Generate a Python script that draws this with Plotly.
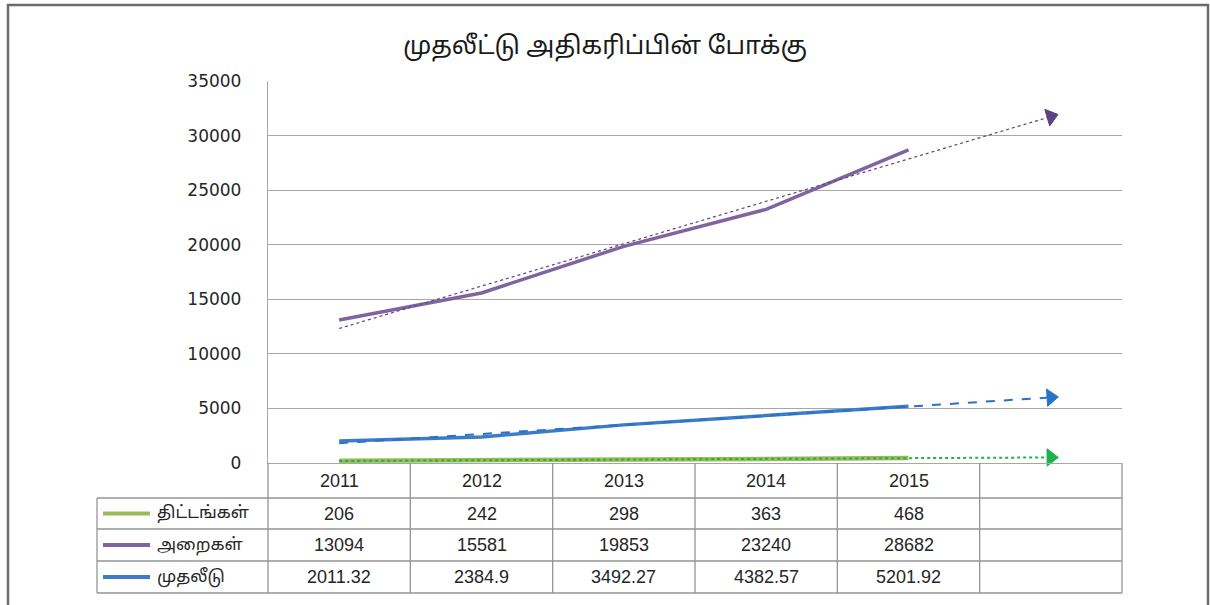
import numpy as np
import plotly.graph_objects as go

# ---------------- data ----------------
years = ["2011", "2012", "2013", "2014", "2015"]
series_names = ["திட்டங்கள்", "அறைகள்", "முதலீடு"]
schemes = [206, 242, 298, 363, 468]                       # திட்டங்கள்
rooms = [13094, 15581, 19853, 23240, 28682]               # அறைகள்
invest = [2011.32, 2384.9, 3492.27, 4382.57, 5201.92]     # முதலீடு
y_ticks = [0, 5000, 10000, 15000, 20000, 25000, 30000, 35000]
chart_title = "முதலீட்டு அதிகரிப்பின் போக்கு"

# ---------------- styles ----------------
GREEN, PURPLE, BLUE = "#9bbb59", "#8064a2", "#3d7cc9"
T_GREEN, T_PURPLE, T_BLUE = "#1fb14b", "#5a4580", "#2a72c8"
GRID = "#a6a6a6"
TABLE = "#959595"
NUM_FONT = "Liberation Sans Narrow, Arial Narrow, Liberation Sans, sans-serif"
TAMIL_FONT = "Noto Sans Tamil, Latha, Noto Sans, sans-serif"

W, H = 1210, 605
L, R, T, B = 268, 88, 81, 142
PW, PH = W - L - R, H - T - B


def px_x(x):  # pixel -> paper x
    return (x - L) / PW


def px_y(y):  # pixel -> paper y
    return (H - B - y) / PH


x_idx = np.arange(len(years))
series = [schemes, rooms, invest]
colors = [GREEN, PURPLE, BLUE]
tcolors = [T_GREEN, T_PURPLE, T_BLUE]
tdash = ["dot", "dot", "dash"]
twidth = [2, 1.2, 2]
dwidth = [4.5, 3.5, 3.5]

fig = go.Figure()

# data lines
for vals, c, name, w in zip(series, colors, series_names, dwidth):
    fig.add_trace(go.Scatter(
        x=x_idx, y=vals, mode="lines", name=name,
        line=dict(color=c, width=w), showlegend=False))

# linear trend lines, forecast one period forward (Excel style)
x_tr = np.arange(len(years) + 1)
for vals, c, d, w in zip(series, tcolors, tdash, twidth):
    k, b0 = np.polyfit(x_idx, vals, 1)
    y_tr = k * x_tr + b0
    sizes = [0] * (len(x_tr) - 1) + [15]
    fig.add_trace(go.Scatter(
        x=x_tr, y=y_tr, mode="lines+markers",
        line=dict(color=c, width=w, dash=d),
        marker=dict(symbol="triangle-up", size=sizes, color=c, opacity=1,
                    angleref="previous", line=dict(width=1, color=c)),
        showlegend=False, hoverinfo="skip", cliponaxis=False))

shapes = []
annotations = []

# outer frame
shapes.append(dict(type="rect", xref="paper", yref="paper",
                   x0=px_x(8), x1=px_x(1208), y0=px_y(640), y1=px_y(5),
                   line=dict(color="#6b6b6b", width=2.5), layer="below"))

# data table grid
ncol = len(years) + 1
row_lines = [498, 529, 561, 593]
header_top = H - B
for i in range(ncol + 1):
    shapes.append(dict(type="line", xref="paper", yref="paper",
                       x0=i / ncol, x1=i / ncol,
                       y0=px_y(header_top), y1=px_y(row_lines[-1]),
                       line=dict(color=TABLE, width=1.3)))
shapes.append(dict(type="line", xref="paper", yref="paper",
                   x0=px_x(97), x1=px_x(97),
                   y0=px_y(row_lines[0]), y1=px_y(row_lines[-1]),
                   line=dict(color=TABLE, width=1.3)))
for yy in row_lines:
    shapes.append(dict(type="line", xref="paper", yref="paper",
                       x0=px_x(97), x1=1, y0=px_y(yy), y1=px_y(yy),
                       line=dict(color=TABLE, width=1.3)))

# header (categories)
for i, yr in enumerate(years):
    annotations.append(dict(x=i, xref="x", y=px_y((header_top + row_lines[0]) / 2),
                            yref="paper", text=yr, showarrow=False,
                            xanchor="center", yanchor="middle",
                            font=dict(family=NUM_FONT, size=18, color="#262626")))

# rows
row_texts = [
    [f"{v:g}" for v in schemes],
    [f"{v:g}" for v in rooms],
    [f"{v:g}" for v in invest],
]
for r, (name, c, texts) in enumerate(zip(series_names, colors, row_texts)):
    yc = px_y((row_lines[r] + row_lines[r + 1]) / 2)
    shapes.append(dict(type="line", xref="paper", yref="paper",
                       x0=px_x(103), x1=px_x(150), y0=yc, y1=yc,
                       line=dict(color=c, width=4)))
    annotations.append(dict(x=px_x(155), xref="paper", y=yc, yref="paper",
                            xanchor="left", yanchor="middle", text=name,
                            showarrow=False,
                            font=dict(family=TAMIL_FONT, size=17, color="#262626")))
    for i, t in enumerate(texts):
        annotations.append(dict(x=i, xref="x", y=yc, yref="paper", text=t,
                                showarrow=False, xanchor="center", yanchor="middle",
                                font=dict(family=NUM_FONT, size=18, color="#262626")))

fig.update_layout(
    width=W, height=H,
    margin=dict(l=L, r=R, t=T, b=B),
    paper_bgcolor="white", plot_bgcolor="white",
    title=dict(text=chart_title, x=0.5, xref="container", xanchor="center",
               y=1 - 45 / H, yref="container", yanchor="middle",
               font=dict(family=TAMIL_FONT, size=25, color="#1a1a1a")),
    xaxis=dict(range=[-0.5, ncol - 0.5], showgrid=False, showticklabels=False,
               ticks="", showline=True, linecolor=GRID, linewidth=1.3,
               zeroline=False, fixedrange=True),
    yaxis=dict(range=[0, 35000], tickvals=y_ticks,
               ticktext=[str(v) for v in y_ticks], showgrid=True,
               gridcolor=GRID, gridwidth=1.3, showline=True, linecolor=GRID,
               linewidth=1.3, zeroline=False, ticks="", ticklabelstandoff=22,
               tickfont=dict(family="DejaVu Sans, Verdana, sans-serif",
                             size=17, color="#262626")),
    shapes=shapes, annotations=annotations,
    showlegend=False,
)

fig.write_html("out.html", config={"displayModeBar": False},
               post_script="document.body.style.margin='0';"
                           "document.body.style.overflow='hidden';")
